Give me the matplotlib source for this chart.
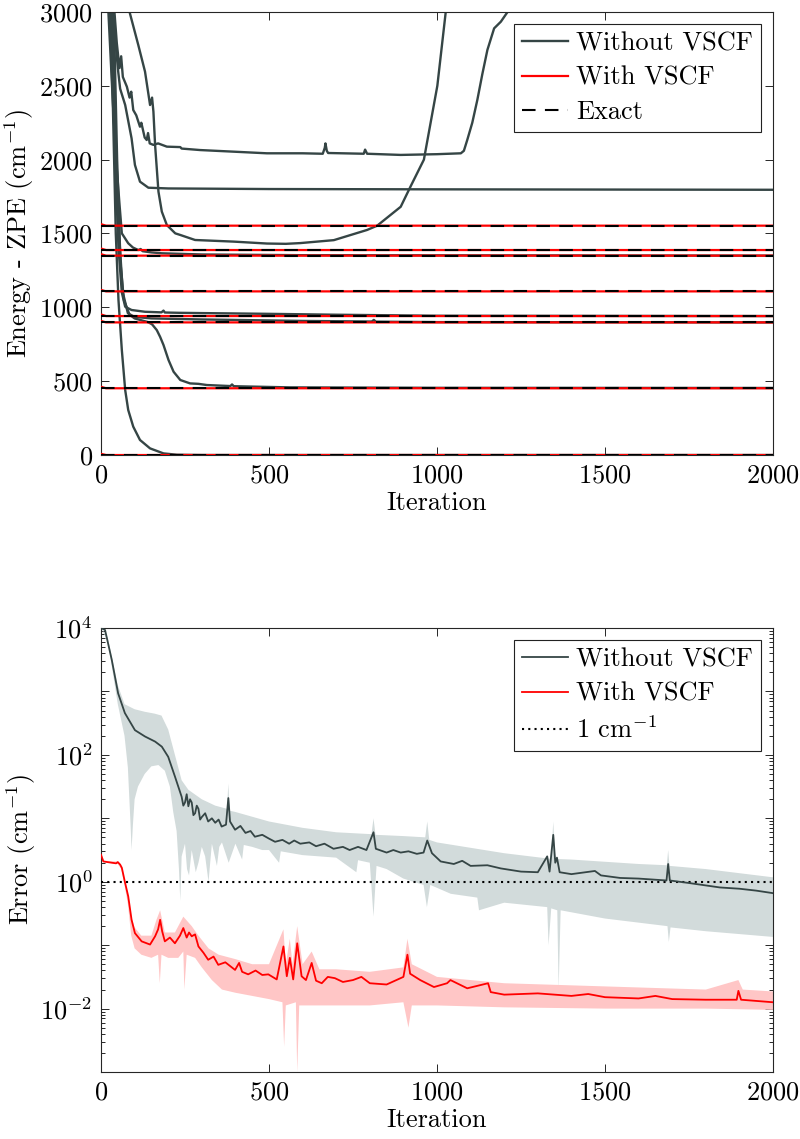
import numpy as np
import matplotlib
matplotlib.use('Agg')
import matplotlib.pyplot as plt
from matplotlib.ticker import FixedLocator, FuncFormatter, LogLocator, NullFormatter

FONTSIZE = 19

GRAY = '#354545'
RED = '#ff0000'
GRAY_BAND = '#d2dbdb'
RED_BAND = '#ffc6c6'

# ---- top panel: energies (cm^-1) of the states vs iteration ----
exact_levels = [0, 452, 898, 941, 1108, 1350, 1388, 1553]
vscf_first = [8, 462, 908, 952, 1118, 1360, 1398, 1563]

# without VSCF, one curve per state
iter_s0 = [0, 12, 20, 27, 35, 44, 52, 62, 72, 81, 96, 116, 146, 186, 226, 300, 2000]
energy_s0 = [9000, 5200, 3900, 3000, 2400, 1500, 1050, 711, 440, 305, 192, 102, 45, 11, 2, 0, 0]

iter_s1 = [0, 15, 30, 38, 48, 58, 68, 85, 100, 116, 140, 152, 166, 176, 186, 201, 216, 236,
           265, 290, 315, 385, 390, 395, 500, 564, 1000, 2000]
energy_s1 = [9000, 5600, 3600, 3000, 2000, 1300, 1050, 950, 925, 915, 900, 885, 846, 800, 745,
             643, 564, 508, 485, 482, 474, 467, 478, 466, 461, 458, 455, 454]

iter_s2 = [0, 15, 30, 42, 52, 62, 72, 91, 131, 180, 186, 190, 231, 300, 385, 500, 700, 1000, 2000]
energy_s2 = [9000, 5200, 3000, 2000, 1400, 1100, 1004, 982, 970, 966, 978, 965, 963, 961, 959,
             956, 950, 943, 941]

iter_s3 = [0, 18, 34, 45, 55, 65, 80, 100, 150, 300, 600, 806, 812, 818, 1000, 2000]
energy_s3 = [9000, 5000, 3000, 2000, 1450, 1100, 960, 935, 925, 918, 908, 904, 915, 903, 900, 898]

iter_s4 = [0, 12, 22, 35, 45, 55, 62, 81, 95, 111, 118, 124, 150, 181, 300, 600, 2000]
energy_s4 = [9000, 4800, 3000, 2400, 2000, 1700, 1501, 1434, 1405, 1388, 1395, 1380, 1372, 1366,
             1358, 1353, 1350]

iter_s5 = [0, 15, 30, 42, 51, 57, 72, 91, 101, 116, 141, 200, 500, 1000, 2000]
energy_s5 = [9000, 5000, 3200, 2820, 2600, 2480, 2370, 2144, 1964, 1851, 1810, 1805, 1801, 1799, 1796]

iter_s6 = [0, 20, 40, 47, 55, 60, 65, 77, 85, 90, 96, 105, 116, 120, 130, 136, 140, 145, 156,
           170, 196, 236, 240, 295, 395, 494, 600, 660, 666, 668, 672, 676, 782, 786, 792, 892,
           1000, 1071, 1080, 1090, 1105, 1120, 1135, 1150, 1170, 1190, 1210, 1240]
energy_s6 = [9000, 4600, 3000, 2790, 2620, 2700, 2560, 2494, 2420, 2460, 2336, 2300, 2223, 2250,
             2150, 2133, 2180, 2110, 2100, 2110, 2088, 2085, 2075, 2065, 2054, 2043, 2043, 2040,
             2080, 2110, 2060, 2045, 2040, 2068, 2040, 2032, 2037, 2043, 2060, 2133, 2250, 2404,
             2580, 2743, 2889, 2934, 3000, 3400]

iter_s7 = [0, 40, 70, 86, 111, 131, 146, 152, 156, 161, 171, 181, 196, 221, 236, 280, 395, 494,
           550, 593, 693, 792, 822, 892, 921, 961, 1001, 1026, 1050]
energy_s7 = [12000, 6000, 3800, 2991, 2776, 2596, 2370, 2420, 2325, 2099, 1783, 1648, 1557, 1501,
             1490, 1456, 1445, 1432, 1430, 1435, 1455, 1524, 1553, 1681, 1817, 2000, 2500, 3000, 3500]

# ---- bottom panel: error (log10 of cm^-1) vs iteration ----
iter_gray = [0, 12, 32, 51, 71, 101, 131, 161, 181, 200, 220, 240, 245, 250, 255, 260, 265, 270,
             275, 280, 285, 290, 295, 300, 310, 319, 330, 340, 350, 359, 372, 379, 384, 399, 415,
             430, 445, 458, 480, 500, 518, 540, 560, 575, 593, 620, 640, 665, 692, 720, 740, 765,
             790, 811, 818, 850, 870, 892, 915, 940, 960, 971, 985, 1011, 1050, 1075, 1100, 1150,
             1190, 1250, 1300, 1328, 1335, 1346, 1352, 1357, 1365, 1400, 1470, 1488, 1545, 1600,
             1683, 1688, 1693, 1750, 1842, 1900, 1950, 2000]
log_err_gray = [4.0, 3.97, 3.5, 2.97, 2.66, 2.39, 2.29, 2.21, 2.13, 1.97, 1.66, 1.34, 1.2, 1.25,
                1.38, 1.19, 1.3, 1.25, 1.05, 1.08, 1.2, 1.15, 0.98, 1.02, 1.08, 0.95, 1.0, 0.93,
                0.98, 0.87, 0.9, 1.32, 0.95, 0.82, 0.88, 0.77, 0.8, 0.71, 0.74, 0.68, 0.63, 0.66,
                0.6, 0.65, 0.6, 0.62, 0.56, 0.6, 0.52, 0.55, 0.5, 0.55, 0.5, 0.78, 0.52, 0.46, 0.5,
                0.46, 0.48, 0.44, 0.46, 0.65, 0.45, 0.32, 0.28, 0.33, 0.25, 0.26, 0.21, 0.16, 0.15,
                0.40, 0.16, 0.74, 0.3, 0.38, 0.15, 0.12, 0.17, 0.10, 0.06, 0.05, 0.02, 0.28, 0.02,
                -0.02, -0.09, -0.11, -0.14, -0.18]

iter_gray_hi = [0, 20, 50, 70, 100, 130, 160, 180, 200, 220, 240, 260, 300, 340, 375, 379, 383,
                400, 500, 600, 700, 805, 811, 817, 900, 965, 971, 977, 1000, 1200, 1340, 1346,
                1352, 1400, 1600, 1684, 1688, 1692, 1800, 2000]
log_gray_hi = [4.0, 3.85, 3.1, 2.8, 2.72, 2.68, 2.65, 2.62, 2.4, 2.0, 1.6, 1.45, 1.3, 1.2, 1.15,
               1.55, 1.12, 1.1, 0.95, 0.85, 0.78, 0.75, 1.0, 0.74, 0.72, 0.7, 0.95, 0.66, 0.62,
               0.45, 0.36, 0.95, 0.36, 0.35, 0.28, 0.26, 0.5, 0.25, 0.2, 0.07]

iter_gray_lo = [0, 20, 50, 70, 80, 88, 91, 95, 100, 110, 130, 150, 171, 190, 205, 215, 225, 232,
                236, 240, 250, 256, 262, 270, 282, 290, 300, 310, 320, 330, 345, 352, 360, 380,
                400, 420, 425, 450, 480, 500, 530, 535, 600, 650, 700, 760, 765, 800, 811, 820,
                850, 900, 960, 970, 980, 1041, 1120, 1125, 1200, 1328, 1332, 1340, 1358, 1362,
                1368, 1500, 1686, 1690, 1695, 1800, 2000]
log_gray_lo = [4.0, 3.8, 2.8, 2.3, 1.8, 0.9, 0.5, 0.9, 1.3, 1.5, 1.7, 1.82, 1.84, 1.75, 1.5, 1.1,
               0.8, 0.2, -0.3, 0.4, 0.6, 0.2, 0.1, 0.5, 0.15, 0.3, 0.55, 0.4, 0.0, 0.6, 0.25, 0.55,
               0.62, 0.3, 0.6, 0.35, 0.58, 0.55, 0.5, 0.5, 0.3, 0.48, 0.42, 0.4, 0.38, 0.15, 0.34,
               0.3, -0.55, 0.25, 0.2, 0.05, -0.05, -0.4, -0.05, -0.19, -0.25, -0.45, -0.33, -0.4,
               -1.0, -0.42, -0.45, -1.7, -0.45, -0.58, -0.7, -0.95, -0.72, -0.78, -0.87]

iter_red = [0, 7, 32, 45, 50, 57, 62, 71, 81, 91, 101, 121, 146, 161, 170, 176, 182, 190, 205,
            220, 235, 245, 255, 262, 270, 280, 290, 305, 319, 335, 349, 370, 399, 411, 420, 438,
            460, 480, 498, 523, 543, 553, 562, 572, 584, 597, 610, 627, 640, 657, 675, 696, 720,
            750, 775, 800, 850, 875, 900, 912, 920, 950, 991, 1030, 1040, 1090, 1152, 1160, 1200,
            1300, 1400, 1450, 1500, 1600, 1650, 1700, 1800, 1892, 1897, 1905, 2000]
log_err_red = [0.425, 0.32, 0.30, 0.29, 0.31, 0.27, 0.22, 0.0, -0.23, -0.60, -0.81, -0.94, -0.99,
               -0.86, -0.75, -0.60, -0.78, -0.94, -0.88, -0.97, -0.85, -0.73, -0.88, -0.80, -0.86,
               -0.83, -1.02, -1.12, -1.23, -1.18, -1.31, -1.27, -1.39, -1.28, -1.42, -1.46, -1.40,
               -1.47, -1.46, -1.54, -1.02, -1.49, -1.20, -1.54, -0.97, -1.49, -1.55, -1.28, -1.56,
               -1.6, -1.5, -1.52, -1.58, -1.55, -1.5, -1.6, -1.62, -1.56, -1.5, -1.15, -1.45, -1.55,
               -1.66, -1.6, -1.55, -1.68, -1.6, -1.74, -1.78, -1.76, -1.8, -1.77, -1.82, -1.84,
               -1.8, -1.85, -1.86, -1.86, -1.72, -1.86, -1.9]

iter_red_hi = [0, 10, 50, 60, 70, 80, 90, 100, 120, 150, 165, 176, 190, 220, 245, 270, 290, 320,
               350, 400, 450, 500, 543, 550, 562, 570, 584, 600, 627, 650, 700, 800, 900, 912,
               925, 1000, 1100, 1200, 1500, 1800, 1897, 1910, 2000]
log_red_hi = [0.43, 0.33, 0.32, 0.25, 0.02, -0.2, -0.55, -0.72, -0.85, -0.85, -0.6, -0.45, -0.8,
              -0.8, -0.55, -0.7, -0.85, -1.05, -1.15, -1.22, -1.3, -1.3, -0.75, -1.3, -0.9, -1.3,
              -0.7, -1.3, -1.1, -1.38, -1.38, -1.42, -1.35, -0.9, -1.3, -1.5, -1.55, -1.6, -1.65,
              -1.7, -1.55, -1.7, -1.73]

iter_red_lo = [0, 10, 50, 60, 70, 80, 90, 100, 120, 150, 170, 175, 180, 200, 230, 245, 248, 255,
               280, 300, 330, 360, 400, 450, 500, 540, 545, 550, 580, 584, 590, 650, 700, 800,
               900, 915, 925, 1000, 1200, 1500, 1800, 2000]
log_red_lo = [0.42, 0.31, 0.28, 0.2, -0.05, -0.35, -0.85, -1.05, -1.15, -1.2, -1.15, -1.6, -1.15,
              -1.2, -1.2, -1.1, -1.7, -1.15, -1.2, -1.35, -1.55, -1.7, -1.75, -1.8, -1.85, -1.9,
              -2.6, -1.95, -1.9, -3.0, -1.95, -1.95, -1.95, -1.95, -1.9, -2.3, -1.95, -1.95,
              -1.98, -2.0, -2.0, -2.02]

x_ticks = [0, 500, 1000, 1500, 2000]
energy_ticks = [0, 500, 1000, 1500, 2000, 2500, 3000]


def style_axes(ax):
    ax.tick_params(which='both', direction='in', top=True, right=True,
                   labelsize=FONTSIZE, width=0.7, color='#262626', pad=6)
    ax.tick_params(which='major', length=6)
    ax.tick_params(which='minor', length=3)
    for spine in ax.spines.values():
        spine.set_linewidth(0.8)
        spine.set_color('#262626')


def make_legend(ax, handles, labels):
    leg = ax.legend(handles, labels, loc='upper right', bbox_to_anchor=(0.982, 0.973),
                    borderaxespad=0, fontsize=FONTSIZE, fancybox=False, framealpha=1,
                    edgecolor='#222222', handlelength=1.75, handletextpad=0.3,
                    labelspacing=0.4, borderpad=0.3)
    leg.get_frame().set_linewidth(0.8)


def plot_energies(ax):
    curves = [
        (iter_s0, energy_s0), (iter_s1, energy_s1), (iter_s2, energy_s2), (iter_s3, energy_s3),
        (iter_s4, energy_s4), (iter_s5, energy_s5), (iter_s6, energy_s6), (iter_s7, energy_s7),
    ]
    for it, en in curves:
        g, = ax.plot(it, en, color=GRAY, linewidth=1.7, zorder=2)

    for first, lvl in zip(vscf_first, exact_levels):
        r, = ax.plot([0, 15, 2000], [first, lvl, lvl], color=RED, linewidth=1.6, zorder=3)

    for lvl in exact_levels:
        e, = ax.plot([0, 2000], [lvl, lvl], color='k', linewidth=1.5,
                     linestyle=(0, (6.5, 4.5)), zorder=4)

    ax.set_xlim(0, 2000)
    ax.set_ylim(0, 3000)
    ax.set_xticks(x_ticks)
    ax.set_yticks(energy_ticks)
    ax.set_xlabel('Iteration', fontsize=FONTSIZE, labelpad=3)
    ax.set_ylabel('Energy - ZPE (cm$^{-1}$)', fontsize=FONTSIZE, labelpad=2)
    style_axes(ax)
    make_legend(ax, [g, r, e], ['Without VSCF', 'With VSCF', 'Exact'])


def plot_errors(ax):
    # shaded spread, upper and lower edges both
    for it_hi, hi, it_lo, lo, col in ((iter_gray_hi, log_gray_hi, iter_gray_lo, log_gray_lo, GRAY_BAND),
                                      (iter_red_hi, log_red_hi, iter_red_lo, log_red_lo, RED_BAND)):
        xs = list(it_hi) + list(it_lo)[::-1]
        ys = list(np.power(10.0, hi)) + list(np.power(10.0, lo))[::-1]
        ax.fill(xs, ys, color=col, linewidth=0, zorder=2)

    g, = ax.plot(iter_gray, np.power(10.0, log_err_gray), color=GRAY, linewidth=1.3, zorder=4)
    r, = ax.plot(iter_red, np.power(10.0, log_err_red), color=RED, linewidth=1.3, zorder=4)
    d = ax.axhline(1.0, color='k', linewidth=1.5, linestyle=(0, (1, 2)), zorder=3)

    ax.set_yscale('log')
    ax.set_xlim(0, 2000)
    ax.set_ylim(1e-3, 1e4)
    ax.set_xticks(x_ticks)
    ax.yaxis.set_major_locator(FixedLocator([10.0 ** k for k in range(-3, 5)]))
    ax.yaxis.set_major_formatter(FuncFormatter(
        lambda v, pos: r'$10^{%d}$' % round(np.log10(v)) if round(np.log10(v)) % 2 == 0 else ''))
    ax.yaxis.set_minor_locator(LogLocator(base=10, subs=np.arange(2, 10), numticks=20))
    ax.yaxis.set_minor_formatter(NullFormatter())
    ax.set_xlabel('Iteration', fontsize=FONTSIZE, labelpad=3)
    ax.set_ylabel('Error (cm$^{-1}$)', fontsize=FONTSIZE, labelpad=2)
    style_axes(ax)
    make_legend(ax, [g, r, d], ['Without VSCF', 'With VSCF', '1 cm$^{-1}$'])


def main():
    plt.rcParams['font.family'] = 'serif'
    plt.rcParams['font.serif'] = ['cmr10']
    plt.rcParams['mathtext.fontset'] = 'cm'
    plt.rcParams['axes.formatter.use_mathtext'] = True
    plt.rcParams['axes.unicode_minus'] = False

    fig = plt.figure(figsize=(8, 11.39), dpi=100)
    ax_top = fig.add_axes([0.12625, 0.6005, 0.84, 0.389])
    ax_bot = fig.add_axes([0.12625, 0.0588, 0.84, 0.3898])

    plot_energies(ax_top)
    plot_errors(ax_bot)

    fig.savefig('out.png', dpi=100)


if __name__ == '__main__':
    main()
